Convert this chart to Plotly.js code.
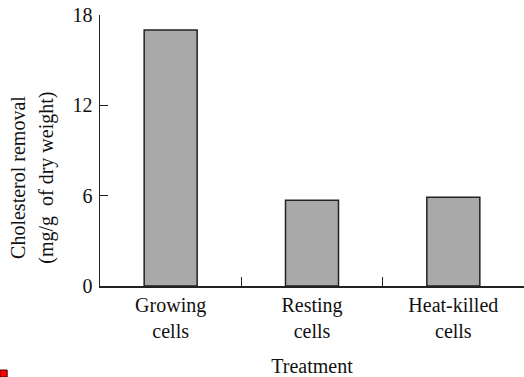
<!DOCTYPE html>
<html>
<head>
<meta charset="utf-8">
<script src="https://cdn.plot.ly/plotly-3.0.1.min.js"></script>
<style>html,body{margin:0;padding:0;background:#fff;}#chart{width:524px;height:377px;}</style>
</head>
<body>
<div id="chart"></div>
<script>
var categories = ["Growing<br>cells", "Resting<br>cells", "Heat-killed<br>cells"];
var removal = [17.0, 5.7, 5.9];
var yTicks = [0, 6, 12, 18];
var yTickLabels = ["0", "6", "12", "18"];
var xTitle = "Treatment";
var yTitleLine1 = "Cholesterol removal";
var yTitleLine2 = "(mg/g  of dry weight)";

var fam = "Liberation Serif";
var font = {family: fam, color: "#111", size: 20};

var trace = {
  type: "bar",
  x: [0, 1, 2],
  y: removal,
  width: 0.375,
  marker: {color: "#a9a9a9", line: {color: "#222", width: 1.5}},
  hoverinfo: "none"
};

var layout = {
  width: 524, height: 377,
  margin: {l: 100, r: 0, t: 15, b: 91},
  paper_bgcolor: "#fff", plot_bgcolor: "#fff",
  font: font,
  showlegend: false,
  bargap: 0,
  xaxis: {
    range: [-0.5, 2.5],
    tickmode: "array",
    tickvals: [0, 1, 2],
    ticktext: categories,
    ticks: "",
    showline: true, linecolor: "#222", linewidth: 1.5,
    showgrid: false, zeroline: false, fixedrange: true,
    ticklabelstandoff: 0,
    tickfont: {family: fam, size: 20, color: "#111"},
    title: {text: xTitle, font: {family: fam, size: 20, color: "#111"}, standoff: 18}
  },
  xaxis2: {
    overlaying: "x", range: [-0.5, 2.5],
    tickmode: "array", tickvals: [0.5, 1.5],
    ticks: "inside", ticklen: 9, tickwidth: 1.5, tickcolor: "#222",
    showticklabels: false, showgrid: false, zeroline: false, showline: false,
    anchor: "y", side: "bottom", fixedrange: true
  },
  yaxis: {
    range: [0, 18],
    tickmode: "array",
    tickvals: yTicks,
    ticktext: yTickLabels,
    ticks: "inside", ticklen: 8, tickwidth: 1.5, tickcolor: "#222",
    showline: true, linecolor: "#222", linewidth: 1.5,
    showgrid: false, zeroline: false, fixedrange: true,
    ticklabelstandoff: 2,
    tickfont: {family: fam, size: 20, color: "#111"}
  },
  annotations: [
    {text: yTitleLine1, textangle: -90, xref: "paper", yref: "paper",
     x: -0.195, y: 0.4, xanchor: "center", yanchor: "middle", showarrow: false,
     font: {family: fam, size: 20, color: "#111"}},
    {text: yTitleLine2, textangle: -90, xref: "paper", yref: "paper",
     x: -0.127, y: 0.4, xanchor: "center", yanchor: "middle", showarrow: false,
     font: {family: fam, size: 20, color: "#111"}}
  ],
  shapes: [
    {type: "rect", xref: "paper", yref: "paper",
     x0: -0.236, x1: -0.219, y0: -0.336, y1: -0.31,
     fillcolor: "#ff0000", line: {color: "#400", width: 1}}
  ]
};

var dummy = {type: "scatter", x: [0], y: [0], xaxis: "x2", yaxis: "y", mode: "markers",
  marker: {opacity: 0}, hoverinfo: "none"};

Plotly.newPlot("chart", [trace, dummy], layout, {displayModeBar: false, staticPlot: true});
</script>
</body>
</html>
